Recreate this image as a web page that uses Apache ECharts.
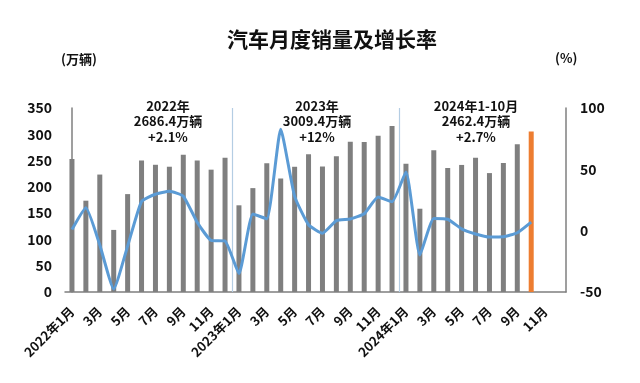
<!DOCTYPE html>
<html>
<head>
<meta charset="utf-8">
<script src="https://cdn.jsdelivr.net/npm/echarts@6/dist/echarts.min.js"></script>
<style>
html,body{margin:0;padding:0;background:#fff;}
#c{width:640px;height:383px;}
</style>
</head>
<body>
<div id="c"></div>
<script>
// Months Jan 2022 – Dec 2024 (last two months have no data yet)
var categories = [
  '2022年1月','2月','3月','4月','5月','6月','7月','8月','9月','10月','11月','12月',
  '2023年1月','2月','3月','4月','5月','6月','7月','8月','9月','10月','11月','12月',
  '2024年1月','2月','3月','4月','5月','6月','7月','8月','9月','10月','11月','12月'
];
// Monthly sales, 10k vehicles
var sales = [
  253.1,173.7,223.4,118.1,186.2,250.2,242.0,238.3,261.0,250.0,232.7,255.6,
  164.9,197.6,245.1,215.9,238.2,262.2,238.7,258.2,285.8,285.3,297.0,315.6,
  243.9,158.4,269.4,235.9,241.7,255.2,226.2,245.3,280.9,305.3
];
// Year-on-year growth, %
var growth = [
  0.9,18.7,-11.7,-47.6,-12.6,23.8,29.7,32.1,28.1,6.9,-7.9,-8.4,
  -35.0,13.5,9.7,82.7,27.9,4.8,-2.1,8.2,9.5,13.8,27.4,23.5,
  47.9,-19.9,9.9,9.3,1.5,-2.7,-5.2,-5.0,-1.7,7.0
];
var leftTicks = {min: 0, max: 350, interval: 50};
var rightTicks = {min: -50, max: 100, interval: 50};
// year boundaries (between category indices)
var separators = [11.5, 23.5];
var yearNotes = [
  '2022年\n2686.4万辆\n+2.1%',
  '2023年\n3009.4万辆\n+12%',
  '2024年1-10月\n2462.4万辆\n+2.7%'
];

var FONT = '"Noto Sans CJK SC", "Noto Sans", sans-serif';
var lastIdx = sales.length - 1;
var barData = sales.map(function (v, i) {
  return i === lastIdx ? {value: v, itemStyle: {color: '#ed7d31'}} : v;
});

var chart = echarts.init(document.getElementById('c'), null, {renderer: 'canvas'});
var noteX = [168, 317, 476];
chart.setOption({
  animation: false,
  backgroundColor: '#ffffff',
  textStyle: {fontFamily: FONT},
  grid: {left: 65, right: 74, top: 108, bottom: 91, containLabel: false},
  graphic: [
    {type: 'text', left: 227, top: 29, style: {text: '汽车月度销量及增长率', font: 'bold 21px ' + FONT, fill: '#111'}},
    {type: 'text', left: 61, top: 53, style: {text: '(万辆)', font: 'bold 13px ' + FONT, fill: '#111'}},
    {type: 'text', left: 555, top: 52, style: {text: '(%)', font: 'bold 13px ' + FONT, fill: '#111'}}
  ].concat(yearNotes.map(function (t, i) {
    return {type: 'text', x: noteX[i], y: 98, z: 10,
      style: {text: t, font: 'bold 13px ' + FONT, fill: '#111', align: 'center', verticalAlign: 'top', lineHeight: 15.5}};
  })),
  xAxis: [{
    type: 'category',
    data: categories,
    boundaryGap: true,
    axisLine: {show: true, lineStyle: {color: '#7f7f7f', width: 1.5}},
    axisTick: {show: false},
    axisLabel: {interval: 1, rotate: 45, margin: 17, color: '#111', fontWeight: 'bold', fontSize: 13, fontFamily: FONT},
    splitLine: {show: false}
  }, {
    type: 'value', min: -0.5, max: categories.length - 0.5, show: false
  }],
  yAxis: [{
    type: 'value', min: leftTicks.min, max: leftTicks.max, interval: leftTicks.interval,
    axisLine: {show: true, lineStyle: {color: '#7f7f7f', width: 1.5}},
    axisTick: {show: false},
    splitLine: {show: false},
    axisLabel: {color: '#111', fontWeight: 'bold', fontSize: 14, margin: 13, fontFamily: FONT}
  }, {
    type: 'value', min: rightTicks.min, max: rightTicks.max, interval: rightTicks.interval,
    position: 'right',
    axisLine: {show: true, lineStyle: {color: '#7f7f7f', width: 1.5}},
    axisTick: {show: false},
    splitLine: {show: false},
    axisLabel: {color: '#111', fontWeight: 'bold', fontSize: 14, margin: 14, fontFamily: FONT}
  }],
  series: [{
    name: '销量', type: 'bar', data: barData, barWidth: 5,
    itemStyle: {color: '#7f7f7f'}, z: 2
  }, {
    name: '增长率', type: 'line', yAxisIndex: 1, data: growth,
    smooth: 0.15, symbol: 'none',
    lineStyle: {color: '#5b9bd5', width: 3}, z: 5
  }, {
    name: 'sep', type: 'line', xAxisIndex: 1, yAxisIndex: 0, data: [],
    symbol: 'none', silent: true,
    markLine: {
      silent: true, symbol: 'none', label: {show: false},
      lineStyle: {color: '#b4cde3', width: 1.2, type: 'solid'},
      data: separators.map(function (s) { return {xAxis: s}; })
    }
  }]
});
</script>
</body>
</html>
